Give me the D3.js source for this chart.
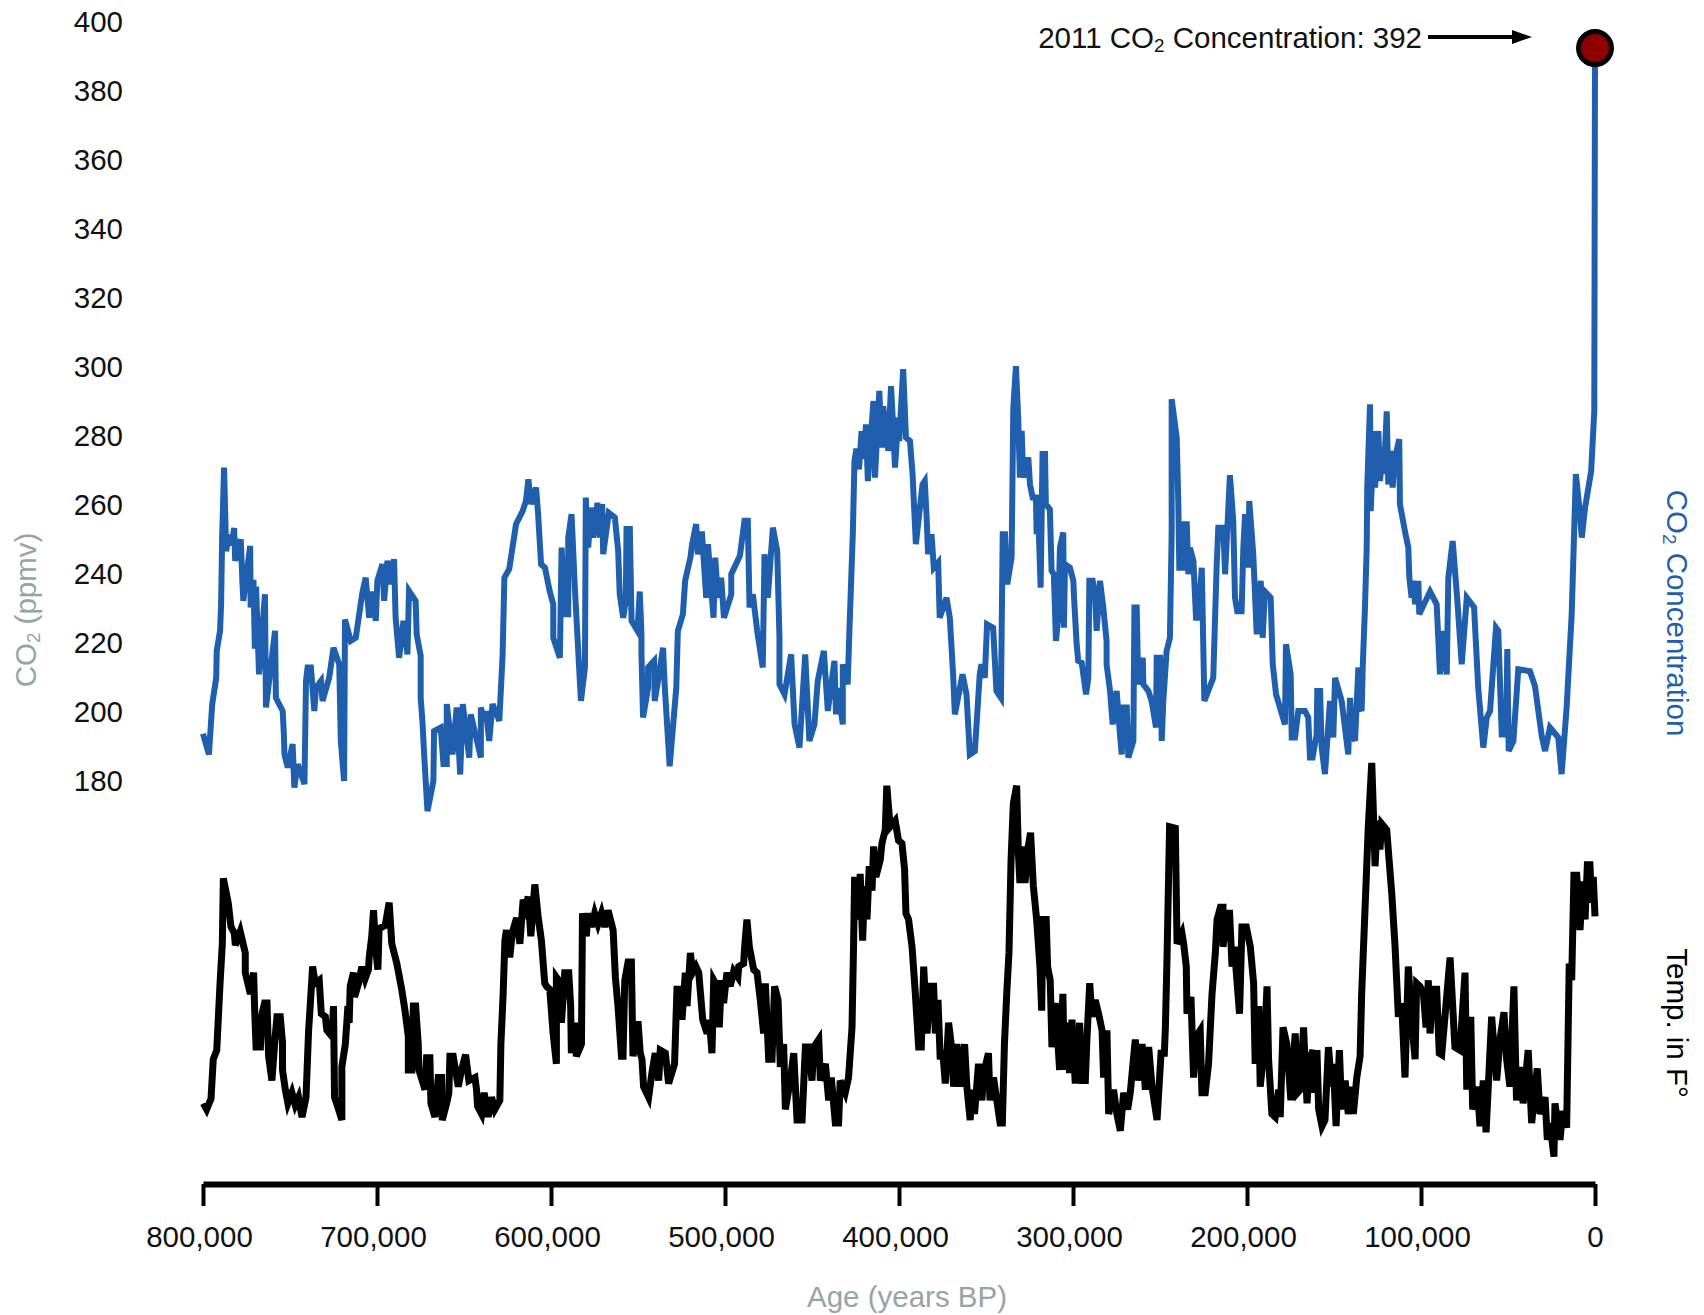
<!DOCTYPE html>
<html>
<head>
<meta charset="utf-8">
<script src="https://cdn.jsdelivr.net/npm/d3@7"></script>
<style>
  html, body { margin: 0; padding: 0; background: #fff; }
  svg { display: block; }
  text { font-family: "Liberation Sans", Arial, Helvetica, sans-serif; }
</style>
</head>
<body>
<svg id="chart" width="1704" height="1315"></svg>
<script>
// Atmospheric CO2 from ice cores: [age in kyr BP, ppmv]
const co2Series = [
  [800,193.4],[796.6,187.4],[794.7,202],[792.4,209.6],[792.1,217.4],[790.2,223.2],[789.6,231],[789,250.2],
  [787.9,270.5],[786.7,246.3],[785,251],[783.5,248],[782.1,253],[781.5,243.5],[778.3,249.7],[777.3,236.7],
  [776.8,231.9],[772.9,247.8],[772.6,230],[771,238],[770.2,218],[769.5,236],[767.8,210.6],[764.4,233.8],
  [763.8,201],[758.6,223.2],[758.1,203.8],[754.2,200],[753.5,193],[753.2,187.4],[751.3,183.6],[748.5,190.4],
  [747.5,177.8],[745.6,184.6],[741.7,178.8],[740.8,208.7],[739.9,212.6],[738,212.6],[736,200],[735.1,206.7],
  [732.2,208.7],[731.3,202.9],[727.5,209.6],[725,218.3],[721.7,213.5],[720.8,191.3],[718.9,179.7],[718.4,226.5],
  [715.1,220.3],[712.2,221.2],[708.4,234.3],[706.5,238.6],[704.5,227],[702.6,234.6],[700.7,226.1],[699.8,237.7],
  [696.9,242.5],[695.9,231.9],[694,243.5],[692.1,236.7],[690.2,244],[689.3,227],[687.3,215.4],[684.8,226.1],
  [682.5,216.4],[681.6,234.8],[677.8,231.9],[677.2,222.2],[674.9,216],[674.9,203.8],[673.9,197.1],[672.9,187.4],
  [671,171],[667.6,179.7],[667.2,194.2],[663.4,195.2],[661.8,184.6],[659.9,184.6],[659.9,202],[656.6,187.4],
  [654.2,201],[652.2,181.6],[650.7,202],[647,186.5],[646.1,199],[640.3,186.5],[640.3,201],[638.4,197.1],
  [637.4,200],[635.5,191.3],[633.6,202],[629.7,197.1],[627.8,216.4],[626.8,238.6],[624,241.1],[620.1,254.1],
  [616.3,257.9],[614.4,260.8],[613,267.1],[611.5,259.9],[608.6,264.7],[607.4,257],[605.7,242.5],[603.5,241.5],
  [600.7,234.6],[598.7,230.9],[598.7,221.2],[594.9,215.4],[593.9,247.3],[592,228],[590.1,228],[590.1,250.2],
  [588.2,257],[586.3,235.7],[582.8,202.9],[580.5,212.6],[580,261.8],[578.6,247.3],[577.1,258.9],[575.7,250.2],
  [573.3,260.3],[571.9,250.2],[570.6,259.9],[570,245.4],[566.8,257.4],[563.3,256],[561.4,246.4],[560.5,233.8],
  [558.5,227],[557,231.9],[556.6,252.7],[554.7,252.7],[553.7,226.1],[550.3,223.2],[549,234.6],[548,222.2],
  [548,216.4],[547.1,198.1],[544.2,206.7],[544.2,212.6],[540.8,214.5],[540.4,202.9],[538.5,208.7],[535.6,218.3],
  [534.7,207.7],[531.8,184],[528,206.7],[527.1,223.2],[524.2,228],[522.9,237.7],[519.9,244.4],[518.9,248.3],
  [516.6,254.1],[515.6,245.4],[513.3,252],[510.8,232.8],[509.8,248.3],[506.6,227],[505.6,244.4],[504.1,232.8],
  [502.2,238.6],[500.6,227],[496.4,233.8],[496.4,239.6],[491.4,245],[488.8,255.1],[486.9,255.1],[485.9,230],
  [484,233.8],[481.5,223.2],[478.3,212.6],[477.3,245.4],[475.4,232.8],[472.5,253.1],[470,246.4],[468.7,221.2],
  [468.7,207.7],[465.8,204.8],[462,216.4],[460,196.1],[457.2,189.4],[453.9,216.4],[451.5,191.3],[448.6,196.1],
  [446.7,208.7],[443.2,217.4],[440.9,200],[437.1,214.5],[436.2,199],[435.2,206.7],[432.3,196.1],[432.3,213.5],
  [429.5,207.7],[428.5,223.2],[426.5,252],[425.6,272.4],[424.5,276],[423,270],[421.5,281],[420,273],
  [419,283],[417.9,266.6],[414.7,289.8],[413.8,267.6],[411.3,292.7],[410,276.3],[409,288.3],[407.5,276.3],
  [406.7,286.8],[406.2,275.3],[404.6,294.1],[403.3,282.1],[402.3,270.5],[400.4,285],[399.9,278.2],[397.6,299],
  [396,279.2],[393.7,278.2],[392.2,268.6],[391.3,258.9],[390.3,248.3],[386.5,265.6],[385.2,266.6],[384.2,257],
  [383.3,245.4],[381.3,251.2],[380,241.5],[377.5,243],[376.6,227],[372.7,232.8],[370.8,227],[368.9,210.6],
  [367.9,199],[363.5,210.6],[361.2,204.8],[359.3,187.4],[356.4,188.4],[353.6,210.6],[352.6,213.5],[350.7,209.6],
  [349.4,225.1],[345.9,224.1],[344,205.8],[341.4,203.8],[340.4,251.2],[339.1,251.2],[337.8,236.7],[335.3,244.4],
  [334.3,287.8],[332.8,299.9],[331.5,285],[330.5,267.6],[329.5,281.1],[328.6,267.6],[325.7,273.4],[324.7,265.6],
  [323.2,261.8],[321.3,261.8],[320.9,251.2],[320,257],[318.6,235.7],[317.5,274.4],[316.1,274.4],[315.6,259.9],
  [313.3,258.4],[312.3,240.6],[311,239.6],[309.8,220.3],[308.5,227],[307.5,247.3],[305.6,251.7],[305.2,224.1],
  [304.6,242.5],[301.8,241.5],[299.8,237.7],[299.4,232.8],[297.9,219.3],[297,214.5],[295,214],[292.5,204.8],
  [291.2,209.6],[290.6,237.7],[288.7,237.7],[287.4,233.8],[286.4,223.2],[284.5,237.7],[282.6,230],[280.7,220.3],
  [280.7,213.5],[278.7,205.8],[277.2,196.1],[274.9,205.8],[273,193.2],[272,187.4],[271.1,201],[269.1,201],
  [268.2,186.5],[265.3,191.3],[264.7,230],[263.4,230],[262.5,207.7],[259.9,215.4],[259.6,207.7],[256.7,205.8],
  [254.8,202.9],[252.3,195.2],[251.9,215.4],[250,215.4],[249,191.3],[248.1,202.9],[246.2,217.4],[244.3,221.2],
  [243.3,251.2],[243.3,290.3],[240.4,279.2],[239.5,260.8],[238.9,241.5],[236.6,241.5],[236.2,254.1],[234.6,254.1],
  [233.7,239.6],[232.8,247.3],[230.8,243.5],[229.3,227],[228,227],[226,241.5],[225.1,218.3],[224.5,202.9],
  [219.4,209.6],[217.4,242.5],[216.5,253.1],[213.6,253.1],[212.6,239.6],[209.8,268.3],[207.9,255.1],[206.9,232.8],
  [205.6,228.9],[203.1,228.9],[202.1,247.3],[201.1,257],[199.2,241.5],[198.7,260.8],[196.4,245.4],[194.4,222.2],
  [192.1,237.7],[191,221.2],[189.7,234.6],[186.4,232.8],[185.2,213.5],[183.3,204.8],[178.2,196.1],[177.6,219.3],
  [174.9,210.6],[174.3,192.3],[172.4,192.3],[170.5,200],[166.7,200],[164.8,198.1],[163.8,186.5],[162.3,186.5],
  [160,193.2],[159.6,205.8],[158,205.8],[157.1,189.4],[155.2,181.7],[152.3,202.9],[150.4,192.3],[149.4,209.6],
  [145.6,202.9],[141.8,187.4],[140.8,203.8],[139.8,194.2],[137.9,191.3],[136,212.6],[136,202],[134.1,200],
  [133.5,212.6],[132.2,230],[131.2,247.3],[130.9,264.7],[129.3,288.8],[128.9,257.9],[127,281.1],[126.4,264.7],
  [124.5,281.1],[123.6,266.6],[121.7,276.3],[121.3,268.6],[119.7,286.8],[118.8,265.6],[117.4,275.3],[116.3,264.7],
  [114.9,273.4],[112.5,278.7],[112.1,259.9],[109.2,252],[107.3,247.3],[106.7,238.6],[105.4,232.8],[104.4,237.7],
  [103.4,230.9],[101.5,237.7],[101,228],[94.8,234.6],[91,230.9],[89.1,210.6],[87.5,223.2],[85.2,210.6],
  [84.3,238.6],[81.8,249.2],[79.1,231.9],[76.6,213.5],[73.7,232.8],[69.5,230],[67.1,206.7],[64.2,189.4],
  [62.2,198.1],[60.3,200],[56.9,224.1],[55.6,223.2],[53.6,193.2],[51.1,193.2],[50.4,217.9],[49.6,188.4],
  [46.9,191.3],[44.1,212.1],[37.4,211.5],[34.5,207.2],[30.6,192.7],[28.7,188.4],[25.9,195.2],[21.1,192.3],
  [19.2,181.7],[16.3,201],[13.4,228],[11,268.6],[8.6,257],[7.6,250.2],[5.7,258.9],[2.2,269.5],
  [0.4,287],[0,392]
];

// Temperature anomaly in °F: [age in kyr BP, °F]
const tempSeries = [
  [799.8,-14.3],[797.9,-14.7],[795.4,-14.0],[794.1,-11.4],[792.1,-10.8],[790.2,-6.4],[788.9,-3.8],[788.3,0.5],
  [785.5,-1.1],[783.9,-2.7],[782,-3.1],[781.4,-3.9],[778.6,-3.0],[775.7,-4.4],[775.7,-5.7],[772.8,-7.1],
  [770.9,-5.7],[770.3,-8.2],[769.5,-10.6],[767,-10.6],[766.1,-8.4],[764.6,-7.7],[763.2,-7.7],[762.3,-11.2],
  [760.4,-12.8],[758.5,-9.9],[757.5,-8.6],[755.6,-8.6],[754.3,-10.3],[754.3,-12.1],[752.7,-13.4],[751.2,-14.3],
  [748.9,-13.6],[747,-14.4],[745.1,-13.9],[743.1,-15.2],[740.8,-13.9],[739.3,-9.5],[738.4,-7.9],[737,-5.3],
  [735.5,-6.4],[733.2,-6.2],[732,-8.4],[729.7,-8.6],[728.8,-9.5],[725.9,-9.9],[725,-7.9],[724.4,-13.9],
  [722.1,-14.7],[720.2,-15.4],[720.2,-11.9],[718.2,-10.4],[716.7,-7.9],[716,-9.0],[715.4,-6.6],[713.5,-5.7],
  [712.9,-7.3],[710.6,-6.4],[708.7,-5.3],[706.8,-6.1],[704.9,-5.5],[704.5,-4.7],[703,-3.3],[702,-1.6],
  [700.7,-4.2],[699.5,-5.5],[698.8,-2.8],[695.3,-2.6],[693,-1.1],[691.5,-3.8],[688.6,-5.1],[685.8,-6.8],
  [683.9,-8.2],[682,-9.9],[682,-12.1],[680,-12.1],[679.1,-7.9],[677.8,-7.9],[676.3,-10.4],[675.9,-12.1],
  [672.4,-13.4],[671.5,-11.3],[669.6,-11.3],[669,-14.3],[666.7,-15.2],[664.8,-12.6],[662.9,-12.6],[662.5,-15.4],
  [660,-14.3],[658.7,-13.6],[658.1,-11.2],[656.2,-11.2],[653.3,-13.2],[651.4,-12.1],[649.1,-11.1],[647.2,-12.8],
  [643.7,-12.6],[642.8,-13.4],[642.2,-14.5],[639.9,-15.0],[638.4,-13.6],[636.1,-15.2],[634.2,-13.9],[632.3,-14.7],
  [629.4,-14.1],[628.8,-10.4],[627.5,-7.1],[626.5,-3.6],[625.6,-2.9],[623.7,-4.7],[622.3,-3.1],[619.8,-2.1],
  [617.9,-3.8],[616,-0.9],[614.6,-1.4],[613.1,-0.7],[611.6,-3.3],[609.3,0.1],[607.4,-2.0],[605.5,-3.6],
  [603.6,-6.4],[602.6,-6.6],[600.7,-6.8],[598.8,-9.7],[596.9,-11.7],[596.9,-6.0],[594.4,-6.4],[594,-9.0],
  [592.1,-5.7],[589.8,-5.7],[588.7,-7.9],[588.3,-11.0],[586.4,-9.0],[585.4,-11.2],[582.5,-10.4],[581.9,-1.8],
  [579.7,-3.3],[578.7,-1.8],[576.8,-2.7],[574.9,-1.8],[573,-2.5],[571,-1.8],[569.1,-2.7],[567.2,-1.6],
  [564.3,-2.9],[563,-6.0],[561.5,-7.9],[559.5,-11.2],[558.6,-11.2],[557.6,-6.2],[555.7,-5.0],[553.8,-5.0],
  [552.9,-11.2],[550,-8.9],[548.7,-11.0],[547.7,-11.4],[546.8,-13.2],[543.9,-13.9],[542,-12.3],[540.1,-11.0],
  [538.1,-12.8],[537.2,-10.8],[534.3,-11.0],[532.4,-13.0],[529,-11.7],[527.6,-6.8],[525.7,-6.8],[524.7,-8.8],
  [522.8,-5.7],[521.8,-7.9],[519.9,-4.4],[518.6,-5.7],[516.7,-5.3],[515.1,-5.7],[512.8,-8.8],[510.3,-9.7],
  [509,-8.8],[507.5,-11.0],[506.5,-6.2],[504.6,-6.6],[503.3,-9.3],[502.1,-6.2],[500.8,-7.7],[498.9,-5.7],
  [497,-6.6],[495,-5.6],[492.6,-6.0],[492.1,-5.3],[489.3,-5.1],[488.7,-4.0],[487.4,-2.2],[486,-4.0],
  [483.5,-5.5],[481.6,-5.7],[479.7,-7.5],[477.8,-9.7],[476.8,-6.4],[474.9,-11.4],[473,-11.4],[471.5,-6.6],
  [469.5,-7.5],[468.2,-11.9],[466.3,-10.4],[465.3,-14.7],[462.5,-12.8],[460.5,-11.0],[458.6,-15.4],[455.7,-15.4],
  [453.8,-10.6],[451.9,-10.6],[450,-12.8],[449,-10.6],[446.1,-10.1],[445.2,-12.8],[442.3,-11.7],[440.4,-14.1],
  [438.9,-12.6],[436.6,-15.6],[434.7,-15.6],[433.8,-12.8],[430.9,-13.6],[429,-12.6],[427,-9.3],[426.1,-3.8],
  [425.5,0.6],[423.2,-2.2],[422.3,0.8],[420.9,-3.6],[419.8,0],[418.4,-2.2],[417.1,1.3],[415.5,-0.3],
  [414.6,2.6],[413.3,0.6],[410.8,1.7],[409.8,2.8],[407.9,3.7],[407,6.6],[405.1,3.9],[402.2,4.3],
  [400.3,3.0],[398.3,2.8],[396.8,1.1],[396,-1.8],[394.5,-2.2],[392.5,-4.0],[390.6,-7.1],[388.7,-10.6],
  [387.2,-10.6],[385.8,-5.3],[383.9,-9.7],[382,-6.6],[380.1,-6.6],[379.1,-9.7],[377.6,-7.5],[376.3,-11.4],
  [374.9,-10.8],[373.4,-13.0],[371.5,-9.0],[370,-10.4],[368.6,-13.2],[366.7,-10.4],[364.8,-13.2],[362.3,-10.4],
  [361,-13.2],[359.1,-15.4],[358.1,-13.4],[356.6,-15.0],[354.3,-11.7],[352.4,-14.1],[350.9,-12.1],[348.6,-11.0],
  [347.7,-14.1],[345.7,-12.6],[343.8,-14.1],[341.9,-15.6],[340.6,-15.6],[339.4,-10.4],[338.1,-7.1],[336.8,-4.4],
  [335.6,1.7],[334.3,5.4],[332.4,6.6],[331.4,2.2],[330.5,0.2],[329.1,2.6],[327.6,0.2],[325.7,2.6],
  [324.4,3.5],[322.8,0],[320.9,-2.2],[319,-5.3],[318,-8.2],[317.3,-2.2],[315.4,-2.2],[314.6,-5.3],
  [313.1,-6.2],[312.1,-10.6],[310.2,-7.7],[309.2,-9.3],[307.7,-12.1],[305.8,-7.1],[305,-12.1],[303.5,-9.0],
  [302,-12.3],[300.6,-8.8],[298.7,-13.0],[296.2,-9.0],[294.8,-12.8],[292.9,-12.8],[292,-10.1],[290.4,-6.4],
  [289.1,-8.6],[287.2,-7.5],[285.3,-8.4],[283.3,-9.5],[282.4,-12.6],[280.5,-9.5],[279.5,-15.0],[276.7,-13.4],
  [274.8,-15.0],[272.8,-16.1],[270.9,-13.6],[268.6,-14.7],[267.1,-13.6],[264.2,-10.1],[262.3,-12.8],[260.3,-10.4],
  [258.4,-13.4],[256.5,-10.6],[254.6,-13.2],[251.7,-15.4],[249.4,-11.0],[247.5,-11.0],[246.9,-9.3],[246,-4.9],
  [244.5,3.9],[241.2,3.8],[240.2,-3.8],[237.4,-3.1],[236.4,-3.8],[234.9,-5.3],[234.5,-8.4],[232.2,-7.3],
  [230.7,-12.6],[229.1,-9.9],[226.9,-9.5],[225.9,-13.6],[224,-13.6],[222.1,-11.7],[220.1,-7.1],[218.2,-4.4],
  [217.2,-2.2],[215.3,-1.4],[213.8,-1.4],[213.8,-4.0],[211.5,-1.8],[210,-1.8],[208.6,-5.3],[207.3,-4.0],
  [205.8,-6.2],[204.3,-8.4],[202.9,-2.7],[200.4,-2.7],[198.1,-4.0],[196.2,-6.4],[195.3,-11.7],[193.3,-7.9],
  [192.4,-13.2],[190.1,-10.6],[188.5,-6.6],[187.6,-11.4],[185.7,-15.0],[183.8,-15.2],[181.8,-13.4],[180.9,-15.2],
  [179.3,-9.3],[177.1,-10.4],[174.8,-14.1],[172.3,-9.7],[170.9,-13.6],[169.4,-13.4],[167.5,-9.3],[165.5,-14.3],
  [164,-11.4],[162.1,-10.8],[161.3,-13.6],[159.8,-10.8],[158.8,-14.7],[156.9,-15.8],[155.2,-15.4],[153.2,-10.6],
  [151.3,-13.2],[150.4,-11.7],[148.8,-15.8],[146.9,-10.8],[145.6,-14.7],[143.6,-12.8],[141.8,-15.0],[139.8,-13.2],
  [138.9,-15.0],[136.9,-12.6],[135,-11.2],[134.1,-7.1],[132.2,-1.6],[130.3,3.9],[128.3,8.1],[127.4,5.0],
  [126.4,1.3],[125.1,4.3],[123.6,2.4],[122.6,4.1],[119.7,3.7],[116.8,-0.5],[114.9,-4.0],[113,-8.6],
  [111.1,-7.7],[109.2,-12.6],[107.3,-5.3],[105.4,-8.8],[103.4,-11.4],[102.5,-6.4],[100.6,-6.6],[98.6,-7.1],
  [97.1,-9.3],[95.8,-6.2],[94.8,-9.7],[93.3,-6.8],[91,-6.8],[89.5,-11.0],[88.1,-11.1],[83.3,-4.7],
  [80.5,-10.6],[77.6,-10.8],[74.7,-5.7],[73.7,-13.4],[71.4,-8.6],[70.3,-14.7],[67.6,-13.2],[66.1,-15.8],
  [64.2,-12.8],[62.6,-16.2],[59.4,-8.6],[56.5,-12.8],[54.6,-10.1],[52.3,-8.3],[50.8,-11.4],[48.9,-13.2],
  [46.6,-6.6],[45.1,-14.1],[42.8,-11.9],[41.3,-14.3],[38.4,-10.8],[36.4,-15.6],[33.2,-12.0],[31.6,-15.0],
  [28.7,-13.9],[27.4,-16.7],[25.9,-15.6],[23.6,-17.8],[23,-14.3],[20.1,-16.7],[18.6,-14.8],[16.3,-15.9],
  [14.8,-5.1],[13.4,-6.2],[12.1,0.7],[10.5,0.7],[8.6,-2.9],[7.1,0.3],[5.7,-2.2],[4.4,1.4],
  [2.9,1.4],[1.9,-1.1],[1.0,0.6],[0,-2.0]
];

const co2Ticks = [180, 200, 220, 240, 260, 280, 300, 320, 340, 360, 380, 400];
const ageTicks = [800000, 700000, 600000, 500000, 400000, 300000, 200000, 100000, 0];
const latestCO2 = { year: 2011, age: 0, ppmv: 392 };

const BLUE = "#1f5fae";
const GREY = "#95a5a6";
const FONT = 29.5;

const svg = d3.select("#chart");

// Scales
const xAge = d3.scaleLinear().domain([800000, 0]).range([203, 1595]);
const yCO2 = d3.scaleLinear().domain([180, 400]).range([780, 20.5]);
const yTemp = d3.scaleLinear().domain([-18, 8]).range([1159.6, 764.4]);

// Helper: "CO" with a subscript 2, followed by extra text
function co2Label(text, before, after) {
  text.append("tspan").text(before + "CO");
  text.append("tspan").attr("font-size", "0.64em").attr("dy", "0.22em").text("2");
  text.append("tspan").attr("dy", "-0.14em").text(after);
  return text;
}

// Left CO2 axis: labels only
const yAxisG = svg.append("g")
  .attr("transform", "translate(123,0)")
  .call(d3.axisLeft(yCO2).tickValues(co2Ticks).tickSize(0).tickPadding(0));
yAxisG.select(".domain").remove();
yAxisG.selectAll("text")
  .attr("font-size", FONT)
  .attr("font-family", "'Liberation Sans', Arial, sans-serif")
  .attr("fill", "#111")
  .attr("dy", "0.36em");

// Bottom age axis
const xAxisG = svg.append("g")
  .attr("transform", "translate(0,1184)")
  .call(d3.axisBottom(xAge).tickValues(ageTicks).tickFormat(d3.format(","))
    .tickSize(22).tickSizeOuter(0).tickPadding(20));
xAxisG.select(".domain").attr("stroke", "#000").attr("stroke-width", 6);
xAxisG.selectAll(".tick line").attr("stroke", "#000").attr("stroke-width", 4);
xAxisG.selectAll("text")
  .attr("font-size", FONT)
  .attr("font-family", "'Liberation Sans', Arial, sans-serif")
  .attr("fill", "#111")
  .attr("dx", d => d === 0 ? 0 : -4);

// Temperature curve
const tempLine = d3.line()
  .x(d => xAge(d[0] * 1000))
  .y(d => yTemp(d[1]));
svg.append("path")
  .datum(tempSeries)
  .attr("d", tempLine)
  .attr("fill", "none")
  .attr("stroke", "#000")
  .attr("stroke-width", 7)
  .attr("stroke-linejoin", "miter");

// CO2 curve
const co2Line = d3.line()
  .x(d => xAge(d[0] * 1000))
  .y(d => yCO2(d[1]));
svg.append("path")
  .datum(co2Series)
  .attr("d", co2Line)
  .attr("fill", "none")
  .attr("stroke", BLUE)
  .attr("stroke-width", 6)
  .attr("stroke-linejoin", "miter");

// Present-day CO2 marker
const dotX = xAge(latestCO2.age), dotY = yCO2(latestCO2.ppmv);
svg.append("circle")
  .attr("cx", dotX).attr("cy", dotY).attr("r", 16.5)
  .attr("fill", "#8e0000")
  .attr("stroke", "#000")
  .attr("stroke-width", 5);

// Annotation with arrow pointing at the marker
const annY = 37;
const ann = svg.append("text")
  .attr("x", 1422).attr("y", annY + 11)
  .attr("text-anchor", "end")
  .attr("font-size", FONT)
  .attr("fill", "#111");
co2Label(ann, latestCO2.year + " ", " Concentration: " + latestCO2.ppmv);

const tipX = dotX - 63;
svg.append("line")
  .attr("x1", 1428).attr("x2", tipX - 16)
  .attr("y1", annY).attr("y2", annY)
  .attr("stroke", "#000").attr("stroke-width", 4);
svg.append("path")
  .attr("d", `M${tipX - 20},${annY - 7}L${tipX},${annY}L${tipX - 20},${annY + 7}Z`)
  .attr("fill", "#000");

// Axis titles
const leftTitle = svg.append("text")
  .attr("transform", "translate(36,610) rotate(-90)")
  .attr("text-anchor", "middle")
  .attr("font-size", FONT)
  .attr("fill", GREY);
co2Label(leftTitle, "", " (ppmv)");

svg.append("text")
  .attr("x", 907).attr("y", 1307)
  .attr("text-anchor", "middle")
  .attr("font-size", FONT)
  .attr("fill", GREY)
  .text("Age (years BP)");

// Right-hand series labels
const co2Title = svg.append("text")
  .attr("transform", "translate(1667,613) rotate(90)")
  .attr("text-anchor", "middle")
  .attr("font-size", FONT)
  .attr("fill", BLUE);
co2Label(co2Title, "", " Concentration");

svg.append("text")
  .attr("transform", "translate(1667,1023) rotate(90)")
  .attr("text-anchor", "middle")
  .attr("font-size", FONT)
  .attr("fill", "#000")
  .text("Temp. in F°");
</script>
</body>
</html>
